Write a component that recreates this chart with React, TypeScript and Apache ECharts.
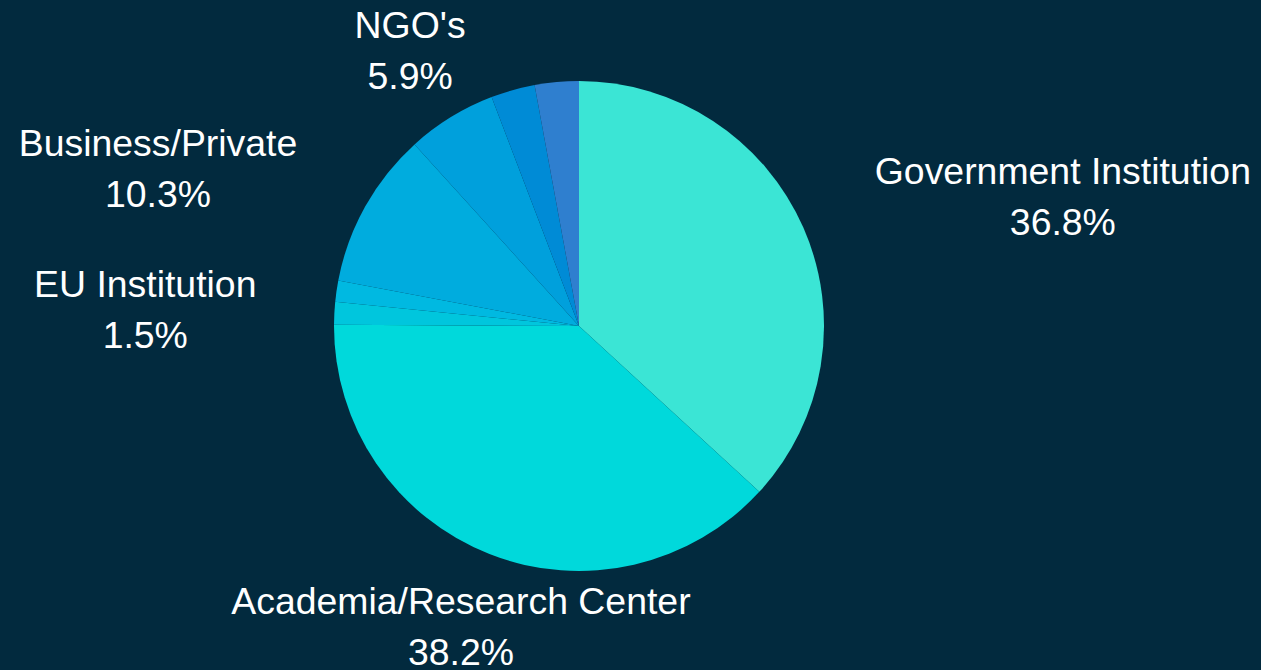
import React, { useEffect, useRef } from "react";
import * as echarts from "echarts";

const categories = [
  "Government Institution",
  "Academia/Research Center",
  "EU Institution",
  "Other",
  "Business/Private",
  "NGO's",
  "International Organization",
  "Individual",
];
const values = [36.8, 38.2, 1.5, 1.4, 10.3, 5.9, 2.9, 2.9];
const colors = [
  "#3be5d5",
  "#00d9db",
  "#00c6dd",
  "#00b9e1",
  "#00acde",
  "#00a0dc",
  "#008bd6",
  "#2f7fcf",
];
const showLabel = [true, true, true, false, true, true, false, false];
const centeredLabels = [1, 5];

export default function App() {
  const ref = useRef<HTMLDivElement>(null);
  useEffect(() => {
    if (!ref.current) return;
    const chart = echarts.init(ref.current, null, { renderer: "svg" });
    chart.setOption({
      animation: false,
      backgroundColor: "#022a3e",
      series: [
        {
          type: "pie",
          center: [579, 326],
          radius: 245,
          startAngle: 90,
          clockwise: true,
          avoidLabelOverlap: false,
          itemStyle: { borderWidth: 0 },
          label: {
            show: true,
            position: "outside",
            color: "#ffffff",
            fontFamily: "Liberation Sans, Arial, sans-serif",
            fontSize: 37.4,
            lineHeight: 51,
            distanceToLabelLine: 0,
            textBorderWidth: 0,
            formatter: (p: any) => `${p.name}\n${p.percent.toFixed(1)}%`,
          },
          labelLine: { show: false, length: 78, length2: 0 },
          labelLayout: (p: any) => {
            const r = p.labelRect;
            if (centeredLabels.includes(p.dataIndex)) {
              return { x: r.x + r.width, align: "center" };
            }
            return { x: r.x + r.width / 2, align: "center" };
          },
          emphasis: { disabled: true },
          data: categories.map((name, i) => ({
            name,
            value: values[i],
            itemStyle: { color: colors[i] },
            label: { show: showLabel[i] },
          })),
        },
      ],
    });
    return () => chart.dispose();
  }, []);
  return (
    <div
      ref={ref}
      style={{ position: "absolute", left: 0, top: 0, width: 1261, height: 670 }}
    />
  );
}
